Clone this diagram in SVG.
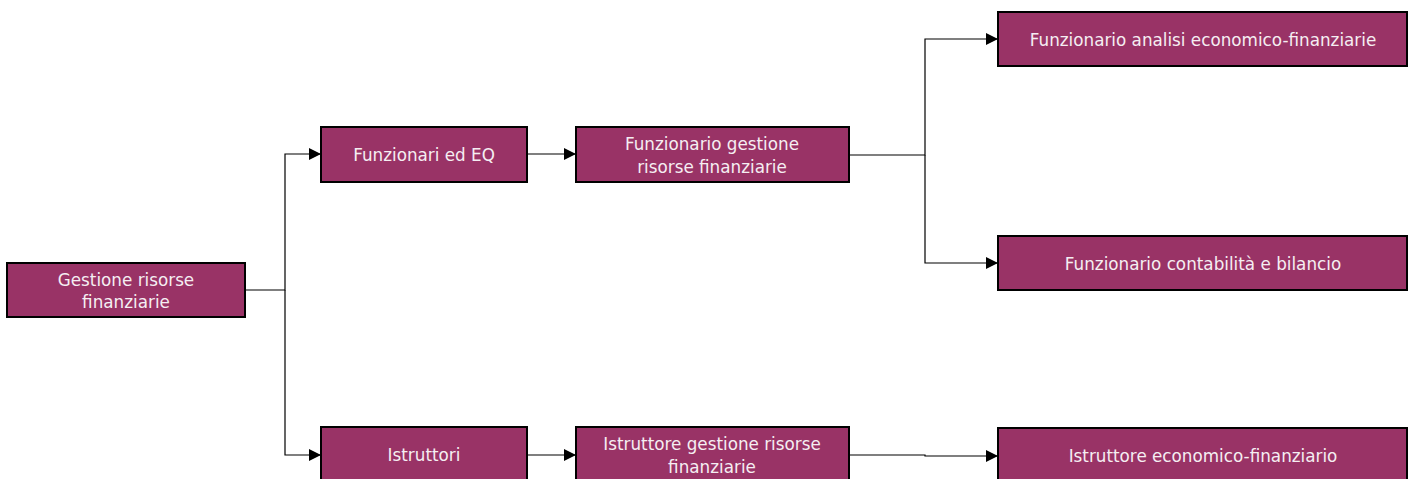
<svg xmlns="http://www.w3.org/2000/svg" width="1413" height="479" viewBox="0 0 1413 479">
<defs>
<style>
.box{fill:#993366;stroke:#000;stroke-width:2}
.t{fill:#f5eef2;font-family:"DejaVu Sans",Verdana,sans-serif;font-size:16.8px;text-anchor:middle;dominant-baseline:central}
.c{fill:none;stroke:#000;stroke-width:1.2}
</style>
<marker id="ah" markerWidth="12" markerHeight="12" refX="12" refY="6" orient="auto" markerUnits="userSpaceOnUse">
<path d="M0,0 L12,6 L0,12 Z" fill="#000"/>
</marker>
</defs>
<rect width="1413" height="479" fill="#fff"/>
<g id="connectors">
<path class="c" d="M245,290 H285 V154 H321" marker-end="url(#ah)"/>
<path class="c" d="M285,290 V455 H321" marker-end="url(#ah)"/>
<path class="c" d="M527,154 H576" marker-end="url(#ah)"/>
<path class="c" d="M850,155 H925 V39 H998" marker-end="url(#ah)"/>
<path class="c" d="M925,155 V263 H998" marker-end="url(#ah)"/>
<path class="c" d="M527,455 H576" marker-end="url(#ah)"/>
<path class="c" d="M850,455 H925 V456 H998" marker-end="url(#ah)"/>
</g>
<g id="n1"><rect class="box" x="7" y="263" width="238" height="54"/><text class="t" x="126" y="280">Gestione risorse</text><text class="t" x="126" y="302">finanziarie</text></g>
<g id="n2"><rect class="box" x="321" y="127" width="206" height="55"/><text class="t" x="424" y="155">Funzionari ed EQ</text></g>
<g id="n3"><rect class="box" x="576" y="127" width="273" height="55"/><text class="t" x="712" y="144">Funzionario gestione</text><text class="t" x="712" y="167">risorse finanziarie</text></g>
<g id="n4"><rect class="box" x="998" y="12" width="409" height="54"/><text class="t" x="1203" y="40">Funzionario analisi economico-finanziarie</text></g>
<g id="n5"><rect class="box" x="998" y="236" width="409" height="54"/><text class="t" x="1203" y="264">Funzionario contabilità e bilancio</text></g>
<g id="n6"><rect class="box" x="321" y="427" width="206" height="60"/><text class="t" x="424" y="455">Istruttori</text></g>
<g id="n7"><rect class="box" x="576" y="427" width="273" height="60"/><text class="t" x="712" y="444">Istruttore gestione risorse</text><text class="t" x="712" y="467">finanziarie</text></g>
<g id="n8"><rect class="box" x="998" y="428" width="409" height="60"/><text class="t" x="1203" y="456">Istruttore economico-finanziario</text></g>
</svg>
